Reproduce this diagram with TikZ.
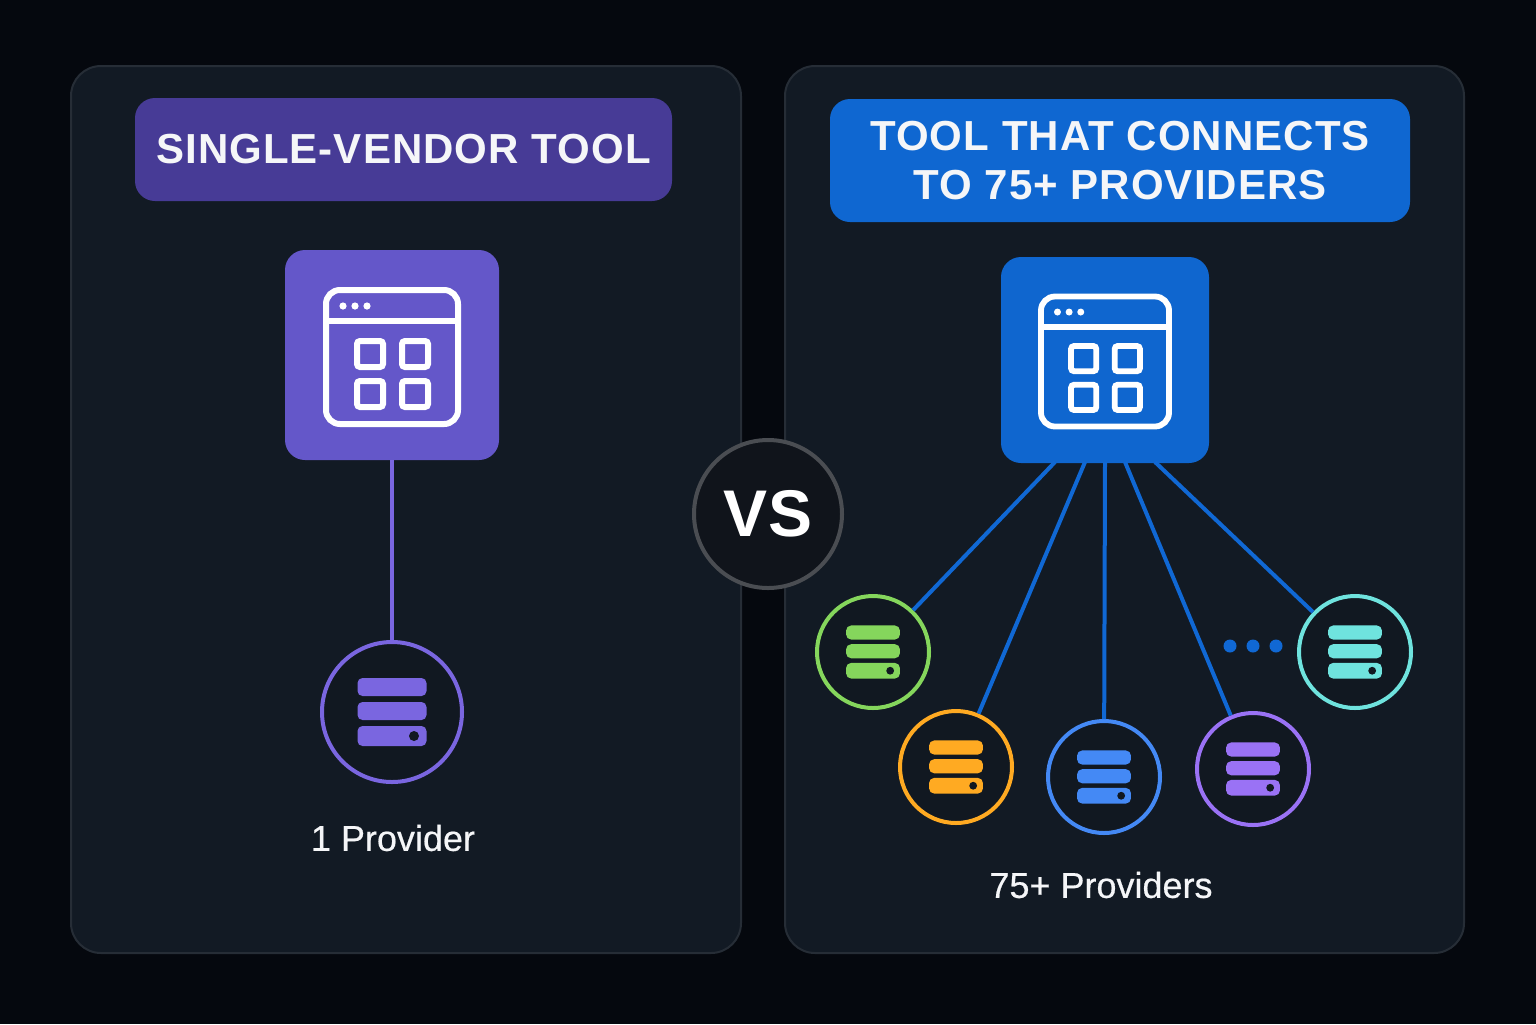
\documentclass[tikz,border=0pt]{standalone}
\usepackage{fontspec}
\setmainfont{Liberation Sans}
\newfontfamily\labelfont[FakeBold=0.5]{Liberation Sans}
\newfontfamily\headfont[Scale=1,LetterSpace=2.5]{Liberation Sans Bold}
\definecolor{bgc}{HTML}{05080E}
\definecolor{panelc}{HTML}{121A24}
\definecolor{panelb}{HTML}{262D36}
\definecolor{violetbadge}{HTML}{473B96}
\definecolor{bluebadge}{HTML}{0F67D1}
\definecolor{violethub}{HTML}{6457C9}
\definecolor{bluehub}{HTML}{0F66CF}
\definecolor{violetline}{HTML}{7A66E0}
\definecolor{bluelink}{HTML}{1068D4}
\definecolor{cgreen}{HTML}{85D65C}
\definecolor{corange}{HTML}{FFAA22}
\definecolor{cblue}{HTML}{4489F5}
\definecolor{cpurple}{HTML}{9A72F5}
\definecolor{cteal}{HTML}{6FE3DE}
\definecolor{ringgrey}{HTML}{4A4D52}
\definecolor{vsfill}{HTML}{10141B}
\definecolor{ringfill}{HTML}{111821}
\definecolor{textc}{HTML}{F5F6F8}
\tikzset{
  panel/.style={draw=panelb,line width=1pt,fill=panelc,rounded corners=15pt,inner sep=0pt},
  badge/.style={rounded corners=10pt,inner sep=0pt,text=textc,align=center,font=\headfont\fontsize{21}{24.5}\selectfont},
  hub/.style={rounded corners=10pt,inner sep=0pt},
  ring/.style={circle,line width=2pt,fill=ringfill,inner sep=0pt,minimum size=56pt},
  link/.style={bluelink,line width=2pt},
  caption/.style={text=textc,inner sep=0pt,font=\labelfont\fontsize{18}{21}\selectfont},
  dotmark/.style={circle,fill=bluelink,inner sep=0pt,minimum size=6.5pt}
}
\newcommand{\windowicon}[3]{%
  \begin{scope}[shift={(#1,#2)},scale=#3]
    \draw[white,line width=3pt*#3,rounded corners=7pt] (-66,-67) rectangle (66,67);
    \draw[white,line width=3pt*#3] (-66,-36) -- (66,-36);
    \foreach \dx in {-49,-37,-25} \fill[white] (\dx,-51) circle (3.6);
    \foreach \sx/\sy in {-22/-3,23/-3,-22/37,23/37}
      \draw[white,line width=3pt*#3,rounded corners=1.5pt] (\sx-13,\sy-13) rectangle (\sx+13,\sy+13);
  \end{scope}}
\newcommand{\servericon}[4]{%
  \begin{scope}[shift={(#1,#2)},scale=#3]
    \fill[#4,rounded corners=2.5pt] (-34.5,-34) rectangle (34.5,-16);
    \fill[#4,rounded corners=2.5pt] (-34.5,-10) rectangle (34.5,8);
    \fill[#4,rounded corners=2.5pt] (-34.5,14) rectangle (34.5,34);
    \fill[ringfill] (22,24) circle (5);
  \end{scope}}
\begin{document}
\begin{tikzpicture}[x=0.5pt,y=-0.5pt]
\useasboundingbox (0,0) rectangle (1536,1024);
\fill[bgc] (0,0) rectangle (1536,1024);
% panels
\node[panel,minimum width=335pt,minimum height=443.5pt] (pl) at (406,509.5) {};
\node[panel,minimum width=339.5pt,minimum height=443.5pt] (pr) at (1124.5,509.5) {};
% badges
\node[badge,fill=violetbadge,minimum width=268.5pt,minimum height=51.5pt] (bl) at (403.5,149.5) {SINGLE-VENDOR TOOL};
\node[badge,fill=bluebadge,minimum width=290pt,minimum height=61.5pt] (br) at (1120,160.5) {TOOL THAT CONNECTS\\TO 75+ PROVIDERS};
% hubs
\node[hub,fill=violethub,minimum width=107pt,minimum height=105pt] (hl) at (392,355) {};
\node[hub,fill=bluehub,minimum width=104pt,minimum height=103pt] (hr) at (1105,360) {};
\windowicon{392}{357}{1}
\windowicon{1105}{361.5}{0.97}
% rings
\node[ring,draw=violetline,minimum size=70pt] (cl) at (392,712) {};
\node[ring,draw=cgreen] (c1) at (873,652) {};
\node[ring,draw=corange] (c2) at (956,767) {};
\node[ring,draw=cblue] (c3) at (1104,777) {};
\node[ring,draw=cpurple] (c4) at (1253,769) {};
\node[ring,draw=cteal] (c5) at (1355,652) {};
\servericon{392}{712}{1}{violetline}
\servericon{873}{652}{0.78}{cgreen}
\servericon{956}{767}{0.78}{corange}
\servericon{1104}{777}{0.78}{cblue}
\servericon{1253}{769}{0.78}{cpurple}
\servericon{1355}{652}{0.78}{cteal}
% connectors
\coordinate (p1) at (1055,462);
\coordinate (p2) at (1085,462);
\coordinate (p3) at (1105,462);
\coordinate (p4) at (1125,462);
\coordinate (p5) at (1155,462);
\draw[violetline,line width=2pt] (hl.south) -- (cl.north);
\draw[link] (p1) -- (c1);
\draw[link] (p2) -- (c2);
\draw[link] (p3) -- (c3);
\draw[link] (p4) -- (c4);
\draw[link] (p5) -- (c5);
\node[dotmark] (d1) at (1230,646) {};
\node[dotmark] (d2) at (1253,646) {};
\node[dotmark] (d3) at (1276,646) {};
% captions
\node[caption] (tl) at (393,838) {1 Provider};
\node[caption] (tr) at (1101,885) {75+ Providers};
% vs
\node[circle,draw=ringgrey,line width=2pt,fill=vsfill,minimum size=74pt,inner sep=0pt,text=white,font=\bfseries\fontsize{33}{36}\selectfont] (vs) at (768,514) {VS};
\end{tikzpicture}
\end{document}
